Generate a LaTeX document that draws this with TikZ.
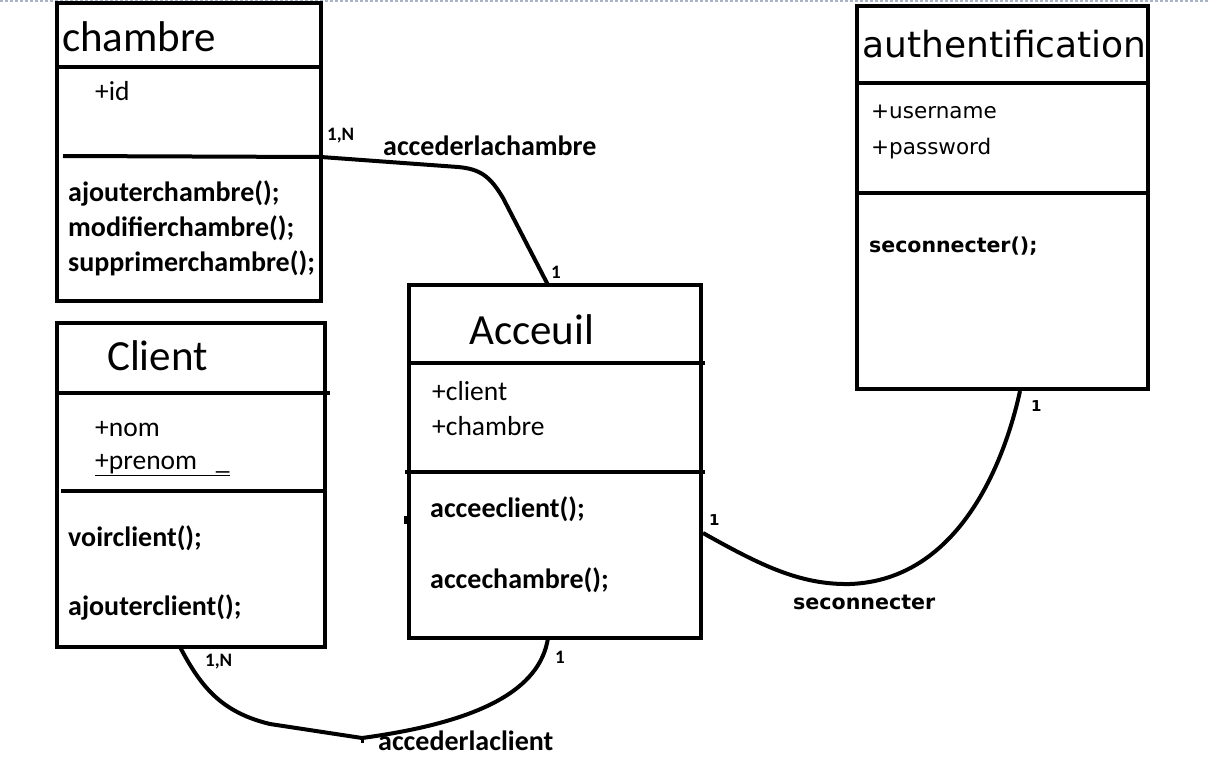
\documentclass[tikz,border=0pt]{standalone}
\usepackage{fontspec}
\setmainfont{Carlito}
\newfontfamily\dv{DejaVu Sans}
\usetikzlibrary{calc}
\begin{document}
\begin{tikzpicture}[x=1pt,y=-1pt,
  umlbox/.style={draw, line width=4pt, inner sep=0, outer sep=0, anchor=north west},
  sepline/.style={line width=4pt},
  conn/.style={line width=4pt, line join=round},
  txt/.style={inner sep=0, anchor=base west},
  title/.style={txt, font=\fontsize{43}{50}\selectfont},
  attr/.style={txt, font=\fontsize{27.5}{32}\selectfont},
  meth/.style={txt, font=\bfseries\fontsize{28}{33}\selectfont},
  lbl/.style={txt, font=\bfseries\fontsize{28}{33}\selectfont},
  mult/.style={txt, font=\bfseries\fontsize{19}{21}\selectfont},
  dvtitle/.style={txt, font=\dv\fontsize{36}{42}\selectfont},
  dvattr/.style={txt, font=\dv\fontsize{21.5}{26}\selectfont},
  dvmeth/.style={txt, font=\dv\bfseries\fontsize{20.5}{25}\selectfont},
  dvmult/.style={txt, font=\dv\bfseries\fontsize{15}{18}\selectfont}
]
\useasboundingbox (0,0) rectangle (1209,757);
% top ruler
\draw[color={rgb,255:red,170;green,180;blue,200}, line width=1.2pt, dash pattern=on 3pt off 2pt] (0,1) -- (1209,1);

% boxes
\node[umlbox, minimum width=264pt, minimum height=298pt] (chambre) at (57,3) {};
\node[umlbox, minimum width=268pt, minimum height=324pt] (client) at (57,323) {};
\node[umlbox, minimum width=292pt, minimum height=353pt] (acc) at (409,285) {};
\node[umlbox, minimum width=291pt, minimum height=383pt] (auth) at (857,6) {};

% separators chambre
\draw[sepline] ($(chambre.north west)+(0,64)$) -- ($(chambre.north east)+(0,64)$);
\draw[sepline] ($(chambre.north west)+(6,153)$) -- ($(chambre.north east)+(0,154)$);
% separators client
\draw[sepline] ($(client.north west)+(0,70)$) -- ($(client.north east)+(5,70)$);
\draw[sepline] ($(client.north west)+(4,168)$) -- ($(client.north east)+(1,168)$);
% separators acceuil
\draw[sepline] ($(acc.north west)+(0,78)$) -- ($(acc.north east)+(4,78)$);
\draw[sepline] ($(acc.north west)+(-4,187)$) -- ($(acc.north east)+(4,187)$);
\draw[line width=3pt] ($(acc.north west)+(-4,231)$) -- ($(acc.north west)+(-4,239)$);
% separators auth
\draw[sepline] ($(auth.north west)+(0,77)$) -- ($(auth.north east)+(2,77)$);
\draw[sepline] ($(auth.north west)+(0,187)$) -- ($(auth.north east)+(0,187)$);

% chambre texts
\node[title] (tch) at (62,52) {chambre};
\node[attr] (ach1) at (95,101) {+id};
\node[meth] (mch1) at (68,201) {ajouterchambre();};
\node[meth] (mch2) at (68,236) {modifierchambre();};
\node[meth] (mch3) at (68,271) {supprimerchambre();};

% client texts
\node[title] (tcl) at (107,370) {Client};
\node[attr] (acl1) at (95,436) {+nom};
\node[attr] (acl2) at (95,469) {\underline{+prenom\ \ \ \_}};
\node[meth] (mcl1) at (68,546) {voirclient();};
\node[meth] (mcl2) at (68,615) {ajouterclient();};

% acceuil texts
\node[title] (tac) at (469,344) {Acceuil};
\node[attr] (aac1) at (432,400) {+client};
\node[attr] (aac2) at (432,435) {+chambre};
\node[meth] (mac1) at (430,517) {acceeclient();};
\node[meth] (mac2) at (430,588) {accechambre();};

% auth texts
\node[dvtitle] (tau) at (862,58) {authentification};
\node[dvattr] (aau1) at (871,119) {+username};
\node[dvattr] (aau2) at (871,154) {+password};
\node[dvmeth] (mau1) at (869,252) {seconnecter();};

% connectors
\coordinate (j2) at (362,738);
\draw[conn] ($(chambre.north east)+(0,154)$) -- (458,167)
   .. controls (480,169) and (490,176) .. (503,198) -- ($(acc.north west)+(139,0)$);
\draw[conn] ($(client.south west)+(123,0)$) .. controls (200,685) and (220,712) .. (270,724) -- (j2)
   .. controls (480,722) and (540,690) .. ($(acc.south west)+(139,0)$);
\draw[line width=3pt] (j2) -- ++(0,5);
\draw[conn] ($(acc.north east)+(2,248)$) .. controls (760,565) and (800,585) .. (850,584)
   .. controls (960,580) and (1005,460) .. ($(auth.south west)+(163,2)$);

% connector labels
\node[lbl] (l1) at (383,155) {accederlachambre};
\node[lbl] (l2) at (378,750) {accederlaclient};
\node[txt, font=\dv\bfseries\fontsize{20.6}{25}\selectfont] (l3) at (793,609) {seconnecter};

% multiplicities
\node[mult] (m1) at (327,140) {1,N};
\node[mult] (m2) at (551,278) {1};
\node[mult] (m3) at (205,666) {1,N};
\node[mult] (m4) at (555,663) {1};
\node[dvmult] (m5) at (709,525) {1};
\node[dvmult] (m6) at (1031,411) {1};
\end{tikzpicture}
\end{document}
